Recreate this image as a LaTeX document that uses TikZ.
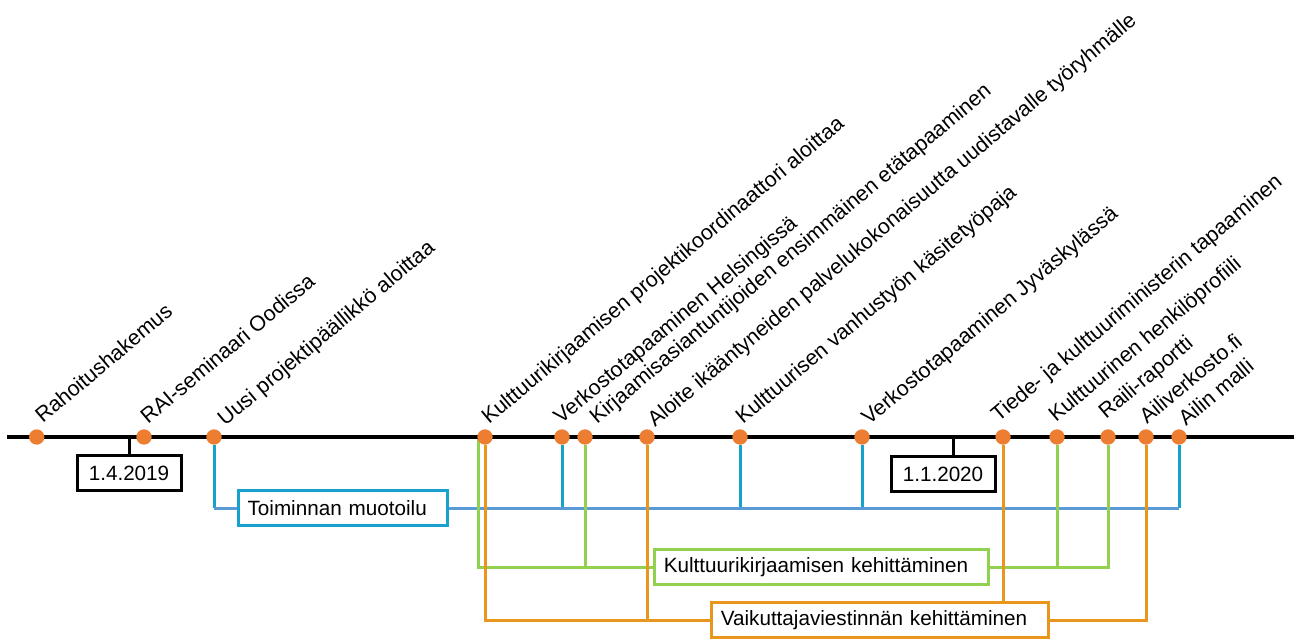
\documentclass[tikz,border=0pt]{standalone}
\usepackage{fontspec}
\setmainfont{Liberation Sans}
\usetikzlibrary{positioning,calc}
\definecolor{dotorange}{HTML}{ED7D31}
\definecolor{lineblue}{HTML}{5B9BD5}
\definecolor{tealblue}{HTML}{17A2CE}
\definecolor{leafgreen}{HTML}{92D050}
\definecolor{amber}{HTML}{E8961E}
\pgfdeclarelayer{bg}
\pgfsetlayers{bg,main}

\begin{document}
\begin{tikzpicture}[
		x=0.75pt, y=-0.75pt,
		font=\fontsize{15.5}{18}\selectfont,
		D/.style = {circle, fill=dotorange,% events on the time line
			minimum size=11.5pt, inner sep=0pt},
		L/.style = {rotate=40, anchor=base west, inner sep=0pt,
			font=\fontsize{16}{19}\selectfont},
		T/.style = {draw, line width=2.25pt, fill=white,
			minimum height=26pt, inner xsep=7pt, align=left},
		W/.style = {line width=2.25pt},
		]
		\useasboundingbox (0,0) rectangle (1294,639);
		\draw[line width=2.8pt] (7,437) coordinate (t0) -- (1294,437) coordinate (t1);
		\foreach \x/\dx/\dy/\t [count=\i] in {36.7/6/-13/Rahoitushakemus,
			144/4/-12/RAI-seminaari Oodissa,
			214/11/-10/Uusi projektipäällikkö aloittaa,
			485/4/-12/Kulttuurikirjaamisen projektikoordinaattori aloittaa,
			562/-1/-12/Verkostotapaaminen Helsingissä,
			585/12/-12/Kirjaamisasiantuntijoiden ensimmäinen etätapaaminen,
			647/8/-9/Aloite ikääntyneiden palvelukokonaisuutta uudistavalle työryhmälle,
			740/3/-12/Kulttuurisen vanhustyön käsitetyöpaja,
			862/7/-11/Verkostotapaaminen Jyväskylässä,
			1003/-4.5/-14/Tiede- ja kulttuuriministerin tapaaminen,
			1057/-1/-14/Kulttuurinen henkilöprofiili,
			1108/-2/-17/Raili-raportti,
			1146/1/-12/Ailiverkosto.fi,
			1179/7/-10/Ailin malli}% <-- events
		{
		\node[D] (d\i) at (\x,437) {};
		\node[L] (l\i) at ([shift={(\dx,\dy)}]d\i) {\t};
		}
		% dates
		\node[T, minimum width=78pt, align=center] (q1) at (129,473) {1.4.2019};
		\node[T, minimum width=78pt, align=center] (q2) at (943,474) {1.1.2020};
		\draw[W] (q1.north) -- (q1.north |- t0);
		\draw[W] ([xshift=8pt]q2.north) -- ([xshift=8pt]q2.north |- t0);
		% themes
		\node[T, draw=tealblue, text width=142.75pt] (tm) at (342.75,508) {Toiminnan muotoilu};
		\node[T, draw=leafgreen, text width=236.5pt] (kk) at (821.5,567) {Kulttuurikirjaamisen kehittäminen};
		\node[T, draw=amber, text width=238.75pt] (vk) at (880,620) {Vaikuttajaviestinnän kehittäminen};
		\begin{pgfonlayer}{bg}
		\foreach \j in {3,5,8,9,14}
		\draw[W, tealblue] (d\j) -- (d\j |- tm.west);
		\draw[W, lineblue] (d3 |- tm.west) -- (tm.west) (tm.east) -- (d14 |- tm.east);
		\draw[W, leafgreen] ([xshift=-5pt]d4.center) |- (kk.west);
		\draw[W, leafgreen] (d6) -- (d6 |- kk.west);
		\draw[W, leafgreen] (kk.east) -| (d12);
		\draw[W, leafgreen] (d11) -- (d11 |- kk.east);
		\draw[W, amber] (d4) |- (vk.west);
		\draw[W, amber] (d7) -- (d7 |- vk.west);
		\draw[W, amber] (d10) -- (d10 |- vk.north);
		\draw[W, amber] (vk.east) -| (d13);
		\end{pgfonlayer}
	\end{tikzpicture}
\end{document}
